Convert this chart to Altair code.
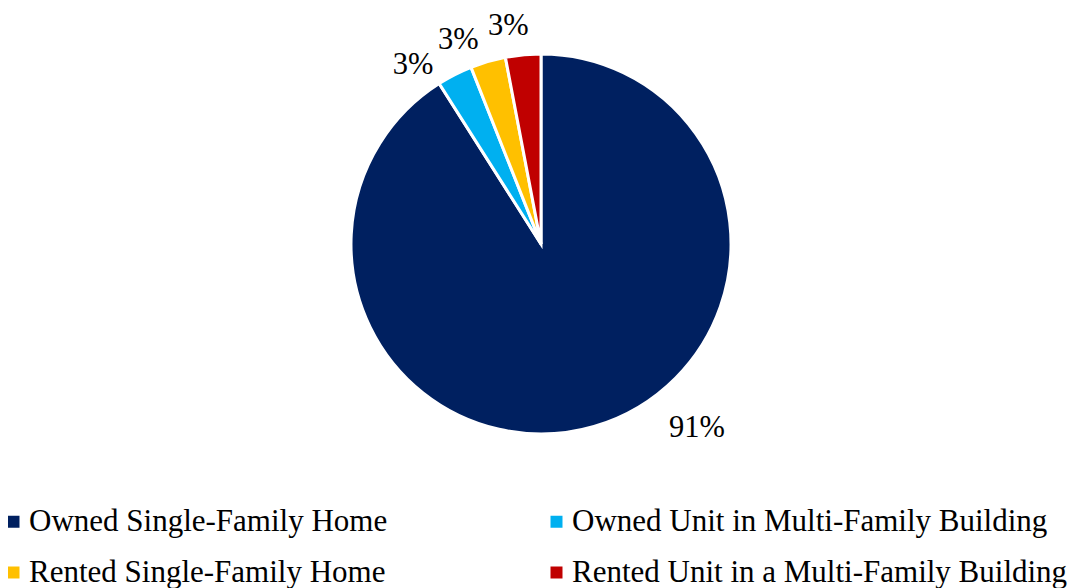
import altair as alt
import pandas as pd

categories = [
    "Owned Single-Family Home",
    "Owned Unit in Multi-Family Building",
    "Rented Single-Family Home",
    "Rented Unit in a Multi-Family Building",
]
values = [91, 3, 3, 3]
colors = ["#002060", "#00B0F0", "#FFC000", "#C00000"]

df = pd.DataFrame({"category": categories, "value": values, "idx": list(range(len(categories)))})

CX, CY = 533, 236
FONT = "Liberation Serif"

color_scale = alt.Scale(domain=categories, range=colors)

arcs = alt.Chart(df).mark_arc(outerRadius=190, stroke="white", strokeWidth=3).encode(
    theta=alt.Theta("value:Q", stack=True),
    order=alt.Order("idx:Q"),
    color=alt.Color(
        "category:N",
        scale=color_scale,
        legend=alt.Legend(
            title=None,
            orient="none",
            direction="horizontal",
            legendX=-13,
            legendY=498,
            columns=2,
            symbolType="square",
            symbolSize=144,
            symbolStrokeWidth=0,
            symbolOffset=3,
            labelFont=FONT,
            labelFontSize=31,
            labelColor="black",
            labelLimit=800,
            labelOffset=0,
            columnPadding=150,
            rowPadding=19,
        ),
    ),
    x=alt.value(CX),
    y=alt.value(CY),
)

base_lab = (
    alt.Chart(df)
    .transform_window(cum="sum(value)", sort=[alt.SortField("idx")])
    .transform_calculate(mid="datum.cum - datum.value / 2", label="datum.value + '%'")
)

theta_scale = alt.Scale(domain=[0, 100], range=[0, 6.283185307])

big_lab = base_lab.transform_filter("datum.value > 50").transform_calculate(
    ang="datum.mid - 6.7"
).mark_text(radius=241, font=FONT, fontSize=30.5, color="black").encode(
    theta=alt.Theta("ang:Q", scale=theta_scale, stack=False),
    text="label:N",
    x=alt.value(CX),
    y=alt.value(CY),
)

small_lab = base_lab.transform_filter("datum.value <= 50").transform_calculate(
    ang="datum.mid - 0.5 - (100 - datum.mid) * 0.25"
).mark_text(radius=220, font=FONT, fontSize=30.5, color="black").encode(
    theta=alt.Theta("ang:Q", scale=theta_scale, stack=False),
    text="label:N",
    x=alt.value(CX),
    y=alt.value(CY),
)

chart = (
    alt.layer(arcs, big_lab, small_lab)
    .resolve_scale(theta="independent")
    .properties(width=1070, height=580, padding=0, autosize=alt.AutoSizeParams(type="none"))
    .configure_view(stroke=None)
)

chart.save("out.html", embed_options={"renderer": "svg", "actions": False})
